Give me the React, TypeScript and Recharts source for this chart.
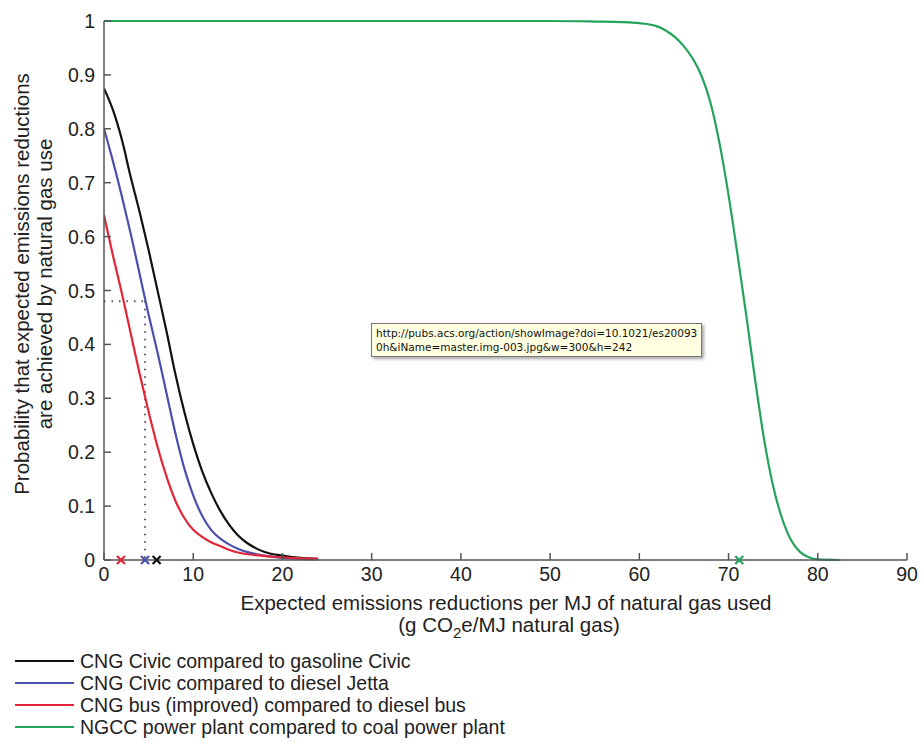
import React from 'react';
import { LineChart, Line, XAxis, YAxis, ReferenceLine, Scatter } from 'recharts';

// CDF-style curves (x in g CO2e/MJ, y = probability)
const civicGasolineX = [0, 1, 2, 3, 4, 5, 6, 7, 8, 9, 10, 11, 12, 13, 14, 15, 16, 17, 18, 20, 22, 24];
const civicGasolineY = [0.875, 0.835, 0.78, 0.71, 0.645, 0.575, 0.5, 0.425, 0.345, 0.275, 0.215, 0.165, 0.125, 0.092, 0.066, 0.046, 0.032, 0.022, 0.015, 0.008, 0.004, 0.002];

const civicJettaX = [0, 1, 2, 3, 4, 5, 6, 7, 8, 9, 10, 11, 12, 13, 14, 15, 16, 18, 20, 22, 24];
const civicJettaY = [0.8, 0.74, 0.675, 0.605, 0.53, 0.455, 0.385, 0.31, 0.235, 0.17, 0.12, 0.082, 0.056, 0.04, 0.029, 0.021, 0.015, 0.008, 0.004, 0.002, 0.001];

const busX = [0, 1, 2, 3, 4, 5, 6, 7, 8, 9, 10, 11, 12, 13, 14, 15, 17, 19, 21, 24];
const busY = [0.64, 0.565, 0.495, 0.42, 0.345, 0.275, 0.21, 0.155, 0.11, 0.078, 0.056, 0.043, 0.033, 0.026, 0.019, 0.014, 0.009, 0.006, 0.004, 0.002];

const ngccX = [0, 10, 20, 30, 40, 50, 55, 58, 60, 62, 63, 64, 65, 66, 67, 68, 69, 70, 71, 72, 73, 74, 75, 76, 77, 78, 79, 80, 82.5];
const ngccY = [1, 1, 1, 1, 1, 1, 0.999, 0.998, 0.996, 0.99, 0.982, 0.97, 0.953, 0.93, 0.897, 0.847, 0.772, 0.677, 0.567, 0.452, 0.332, 0.222, 0.137, 0.077, 0.037, 0.015, 0.005, 0.001, 0];

// expected reductions (x markers on the axis)
const markerX = [1.9, 4.6, 5.9, 71.2];
const markerColors = ['#e42538', '#4b4fae', '#111111', '#23a35c'];

const guideX = 4.6;
const guideY = 0.48;

const seriesNames = [
  'CNG Civic compared to gasoline Civic',
  'CNG Civic compared to diesel Jetta',
  'CNG bus (improved) compared to diesel bus',
  'NGCC power plant compared to coal power plant',
];
const seriesColors = ['#111111', '#4b4fae', '#e42538', '#23a35c'];

const xTicks = [0, 10, 20, 30, 40, 50, 60, 70, 80, 90];
const yTicks = [0, 0.1, 0.2, 0.3, 0.4, 0.5, 0.6, 0.7, 0.8, 0.9, 1];

const zip = (xs: number[], ys: number[]) => xs.map((x, i) => ({ x, y: ys[i] }));
const curves = [
  zip(civicGasolineX, civicGasolineY),
  zip(civicJettaX, civicJettaY),
  zip(busX, busY),
  zip(ngccX, ngccY),
];
const markers = markerX.map((x, i) => ({ x, y: 0, color: markerColors[i] }));

const font = '"Liberation Sans", Arial, Helvetica, sans-serif';

const XMark = (props: any) => {
  const { cx, cy, payload } = props;
  const s = 4;
  return (
    <g stroke={payload.color} strokeWidth={2.2}>
      <line x1={cx - s} y1={cy - s} x2={cx + s} y2={cy + s} />
      <line x1={cx - s} y1={cy + s} x2={cx + s} y2={cy - s} />
    </g>
  );
};

// tick labels drawn with explicit font so the size sticks
const XTick = (props: any) => {
  const { x, y, payload } = props;
  return (
    <text x={x} y={y + 21} textAnchor="middle" fontFamily={font} fontSize={19.5} fill="#222">
      {payload.value}
    </text>
  );
};

const YTick = (props: any) => {
  const { x, y, payload } = props;
  return (
    <text x={x - 1} y={y + 7} textAnchor="end" fontFamily={font} fontSize={19.5} fill="#222">
      {payload.value}
    </text>
  );
};

const YTitle = () => (
  <g fontFamily={font} fontSize={20.5} fill="#222" textAnchor="middle">
    <text transform="translate(29,284) rotate(-90)">Probability that expected emissions reductions</text>
    <text transform="translate(52,284) rotate(-90)">are achieved by natural gas use</text>
  </g>
);

const XTitle = () => (
  <g fontFamily={font} fontSize={20.5} fill="#222" textAnchor="middle">
    <text x={506} y={610}>Expected emissions reductions per MJ of natural gas used</text>
    <text x={509} y={632}>
      (g CO<tspan dy={6} fontSize={15}>2</tspan><tspan dy={-6}>e/MJ natural gas)</tspan>
    </text>
  </g>
);

export default function App() {
  return (
    <div style={{ position: 'absolute', left: 0, top: 0, width: 922, height: 748, background: '#fff' }}>
      <LineChart width={922} height={748} margin={{ top: 21, right: 15, bottom: 158, left: 0 }}>
        <XAxis
          type="number"
          dataKey="x"
          domain={[0, 90]}
          ticks={xTicks}
          allowDataOverflow
          stroke="#555"
          strokeWidth={1.5}
          tickSize={-7}
          tickMargin={7}
          height={30}
          tick={<XTick />}
        />
        <YAxis
          type="number"
          dataKey="y"
          domain={[0, 1]}
          ticks={yTicks}
          width={104}
          stroke="#555"
          strokeWidth={1.5}
          tickSize={-7}
          tickMargin={15}
          tick={<YTick />}
          label={<YTitle />}
        />
        <ReferenceLine
          segment={[{ x: 0, y: guideY }, { x: guideX, y: guideY }]}
          stroke="#556"
          strokeWidth={2}
          strokeDasharray="1.5 6"
        />
        <ReferenceLine
          segment={[{ x: guideX, y: guideY }, { x: guideX, y: 0 }]}
          stroke="#556"
          strokeWidth={2}
          strokeDasharray="1.5 6"
        />
        {curves.map((d, i) => (
          <Line
            key={seriesNames[i]}
            name={seriesNames[i]}
            data={d}
            dataKey="y"
            type="monotone"
            stroke={seriesColors[i]}
            strokeWidth={2.2}
            dot={false}
            activeDot={false}
            isAnimationActive={false}
          />
        ))}
        <Scatter data={markers} dataKey="y" shape={<XMark />} isAnimationActive={false} />
        <XTitle />
      </LineChart>

      <div
        style={{
          position: 'absolute',
          left: 371,
          top: 323,
          padding: '2px 4px',
          background: '#ffffe1',
          border: '1px solid #777',
          boxShadow: '2px 2px 3px rgba(0,0,0,0.35)',
          fontFamily: '"DejaVu Sans", sans-serif',
          fontSize: 10.5,
          lineHeight: '14px',
          color: '#111',
          whiteSpace: 'nowrap',
        }}
      >
        http://pubs.acs.org/action/showImage?doi=10.1021/es20093
        <br />
        0h&amp;iName=master.img-003.jpg&amp;w=300&amp;h=242
      </div>

      <div style={{ position: 'absolute', left: 15, top: 650, fontFamily: font, fontSize: 19.5, color: '#222' }}>
        {seriesNames.map((n, i) => (
          <div key={n} style={{ display: 'flex', alignItems: 'center', height: 22 }}>
            <div style={{ width: 59, height: 2, background: seriesColors[i], marginRight: 6 }} />
            <span>{n}</span>
          </div>
        ))}
      </div>
    </div>
  );
}
